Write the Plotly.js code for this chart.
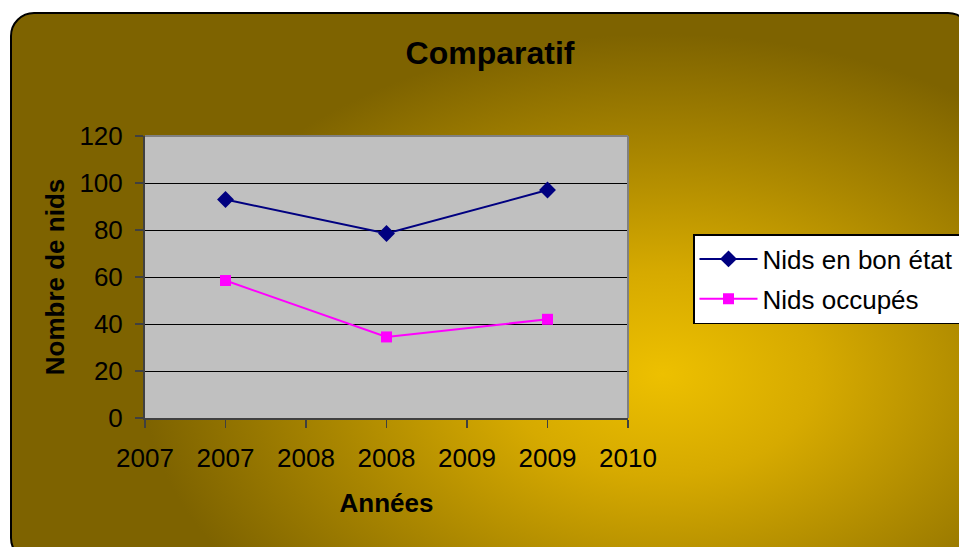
<!DOCTYPE html>
<html>
<head>
<meta charset="utf-8">
<script src="https://cdn.plot.ly/plotly-3.0.1.min.js"></script>
<style>
  html, body { margin: 0; padding: 0; background: #ffffff; width: 959px; height: 547px; overflow: hidden; }
  #frame {
    position: absolute; left: 10px; top: 12px; width: 962px; height: 550px;
    box-sizing: border-box; border: 2px solid #000; border-radius: 24px;
    background: radial-gradient(ellipse 520px 340px at 650px 360px, #EDC000 0%, #D6AA00 30%, #AD8900 62%, #7E6300 100%);
  }
  #chart { position: absolute; left: 0; top: 0; width: 959px; height: 547px; }
</style>
</head>
<body>
<div id="frame"></div>
<div id="chart"></div>
<script>
const years = [2007, 2008, 2009];
const nidsBonEtat = [93, 78.5, 97];
const nidsOccupes = [58.5, 34.5, 42];
const seriesNames = ["Nids en bon état", "Nids occupés"];
const xTickVals = [2006.5, 2007, 2007.5, 2008, 2008.5, 2009, 2009.5];
const xTickText = ["2007", "2007", "2008", "2008", "2009", "2009", "2010"];

const font = "Liberation Sans, Arial, sans-serif";

const traces = [
  {
    x: years, y: nidsBonEtat, name: seriesNames[0], type: "scatter", mode: "lines+markers",
    legendgroup: "g1",
    line: { color: "#000080", width: 2 },
    marker: { symbol: "diamond", size: 13, color: "#000080" }
  },
  {
    x: years, y: nidsOccupes, name: seriesNames[1], type: "scatter", mode: "lines+markers",
    legendgroup: "g2",
    line: { color: "#FF00FF", width: 2 },
    marker: { symbol: "square", size: 11, color: "#FF00FF" }
  }
];

const layout = {
  width: 959, height: 547,
  margin: { l: 145, r: 331, t: 136, b: 129, autoexpand: false },
  paper_bgcolor: "rgba(0,0,0,0)",
  plot_bgcolor: "#C0C0C0",
  font: { family: font, color: "#000", size: 26 },
  title: { text: "<b>Comparatif</b>", x: 490/959, xref: "container", xanchor: "center",
           y: 1 - 53/547, yref: "container", yanchor: "middle",
           font: { family: font, size: 32, color: "#000" } },
  xaxis: {
    range: [2006.5, 2009.5], tickmode: "array", tickvals: xTickVals, ticktext: xTickText,
    showgrid: false, zeroline: false,
    showline: true, linecolor: "#404040", linewidth: 2,
    ticks: "outside", ticklen: 8, tickcolor: "#404040", tickwidth: 1.5,
    ticklabelstandoff: 8,
    tickfont: { family: font, size: 26, color: "#000" },
    title: { text: "<b>Années</b>", standoff: 22, font: { family: font, size: 26, color: "#000" } }
  },
  yaxis: {
    range: [0, 120], dtick: 20, tick0: 0,
    showgrid: true, gridcolor: "#000000", gridwidth: 1, zeroline: false,
    showline: true, linecolor: "#404040", linewidth: 2,
    ticks: "outside", ticklen: 8, tickcolor: "#404040", tickwidth: 1.5,
    ticklabelstandoff: 7,
    tickfont: { family: font, size: 26, color: "#000" },
    title: { text: "<b>Nombre de nids</b>", standoff: 7, font: { family: font, size: 26, color: "#000" } }
  },
  shapes: [
    { type: "line", xref: "paper", yref: "paper", x0: 0, x1: 1, y0: 1, y1: 1,
      line: { color: "#808080", width: 2 }, layer: "above" },
    { type: "line", xref: "paper", yref: "paper", x0: 1, x1: 1, y0: 0, y1: 1,
      line: { color: "#808080", width: 2 }, layer: "above" }
  ],
  legend: {
    x: (693-145)/483, xanchor: "left", y: (418-234)/282, yanchor: "top",
    bgcolor: "#FFFFFF", bordercolor: "#000000", borderwidth: 1.5,
    font: { family: font, size: 26, color: "#000" },
    traceorder: "grouped", tracegroupgap: 3, itemwidth: 58
  },
  showlegend: true
};

Plotly.newPlot("chart", traces, layout, { displayModeBar: false, staticPlot: true });
</script>
</body>
</html>
